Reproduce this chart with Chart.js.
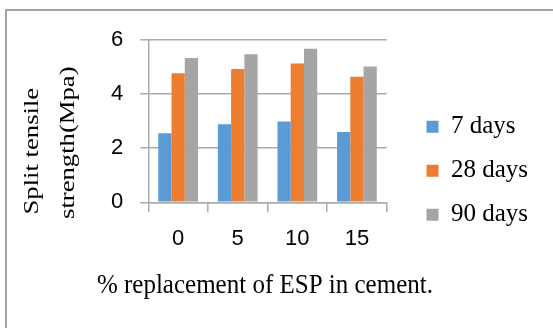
<!DOCTYPE html>
<html>
<head>
<meta charset="utf-8">
<script src="https://cdn.jsdelivr.net/npm/chart.js@4"></script>
<style>
  html, body { margin: 0; padding: 0; background: #fff; overflow: hidden; }
  #wrap { position: relative; width: 553px; height: 328px; }
  #frame { position: absolute; left: 5px; top: 9px; width: 600px; height: 400px;
           border: 2px solid #a3a3a3; box-sizing: border-box; }
  #c { position: absolute; left: 0; top: 0; }
</style>
</head>
<body>
<div id="wrap">
  <div id="frame"></div>
  <canvas id="c" width="553" height="328"></canvas>
</div>
<script>
// Split tensile strength by % of eggshell powder (ESP) replacing cement
const categories = ['0', '5', '10', '15'];
const days7  = [2.55, 2.89, 2.99, 2.60];
const days28 = [4.77, 4.93, 5.13, 4.64];
const days90 = [5.33, 5.47, 5.68, 5.02];
const seriesNames = ['7 days', '28 days', '90 days'];
const yTicks = [0, 2, 4, 6];
const yTitleLines = ['Split tensile', 'strength(Mpa)'];
const xTitle = '% replacement of ESP in cement.';

const colors = ['#5b9bd5', '#ed7d31', '#a5a5a5'];
const gridColor = '#ababab';

// Axis titles in a serif face: the y title is rotated and spread over two
// left-aligned lines, the x title is centred under the category labels.
const axisTitlePlugin = {
  id: 'axisTitles',
  afterDraw(chart, args, opts) {
    const { ctx, chartArea } = chart;
    ctx.save();
    ctx.fillStyle = '#000';
    ctx.textBaseline = 'alphabetic';

    const y = opts.y;
    ctx.font = y.size + 'px "Liberation Serif"';
    ctx.textAlign = 'left';
    y.lines.forEach((line, i) => {
      const o = y.offsets[i];
      ctx.save();
      ctx.translate(chartArea.left + o.x, chartArea.bottom + o.y);
      ctx.rotate(-Math.PI / 2);
      ctx.scale(y.stretch, 1);
      ctx.fillText(line, 0, 0);
      ctx.restore();
    });

    const x = opts.x;
    ctx.font = x.size + 'px "Liberation Serif"';
    ctx.textAlign = 'center';
    ctx.save();
    ctx.translate((chartArea.left + chartArea.right) / 2 + x.dx, chartArea.bottom + x.dy);
    ctx.scale(1, x.stretch);
    ctx.fillText(x.text, 0, 0);
    ctx.restore();

    ctx.restore();
  }
};

const datasets = [days7, days28, days90].map((data, i) => ({
  label: seriesNames[i],
  data: data,
  backgroundColor: colors[i],
  borderWidth: 0,
  categoryPercentage: 0.667,
  barPercentage: 1.0
}));

new Chart(document.getElementById('c'), {
  type: 'bar',
  data: { labels: categories, datasets: datasets },
  plugins: [axisTitlePlugin],
  options: {
    responsive: false,
    animation: false,
    devicePixelRatio: 1,
    layout: { padding: { left: 94.1, top: 40, right: 14.9, bottom: 26.6 } },
    plugins: {
      tooltip: { enabled: false },
      legend: {
        position: 'right',
        align: 'center',
        maxWidth: 200,
        labels: {
          boxWidth: 12,
          boxHeight: 12,
          padding: 19,
          color: '#000',
          font: { family: 'Liberation Serif', size: 25 }
        }
      },
      axisTitles: {
        y: {
          lines: yTitleLines,
          size: 21,
          stretch: 1.27,
          offsets: [{ x: -110.8, y: 12.2 }, { x: -74.8, y: 16.7 }]
        },
        x: { text: xTitle, size: 25, stretch: 1.1, dx: -2.6, dy: 91 }
      }
    },
    scales: {
      x: {
        offset: true,
        // room below the plot for the tick labels and the x title
        afterFit(scale) { scale.height = 99.1; },
        grid: {
          offset: true,
          drawOnChartArea: false,
          drawTicks: true,
          tickLength: 10,
          color: gridColor,
          lineWidth: 1.5
        },
        border: { display: true, color: gridColor, width: 1.5 },
        ticks: {
          padding: 13.5,
          color: '#000',
          font: { family: 'Liberation Sans', size: 22 }
        }
      },
      y: {
        min: 0,
        max: 6,
        afterBuildTicks(scale) { scale.ticks = yTicks.map(v => ({ value: v })); },
        grid: {
          color: gridColor,
          lineWidth: 1.5,
          drawTicks: true,
          tickLength: 8
        },
        border: { display: true, color: gridColor, width: 1.5 },
        ticks: {
          padding: 17,
          color: '#000',
          font: { family: 'Liberation Sans', size: 22 }
        }
      },
      gap: {
        type: 'linear',
        position: 'right',
        display: true,
        grid: { display: false },
        border: { display: false },
        ticks: { display: false },
        afterFit(scale) { scale.width = 20.8; }
      }
    }
  }
});
</script>
</body>
</html>
